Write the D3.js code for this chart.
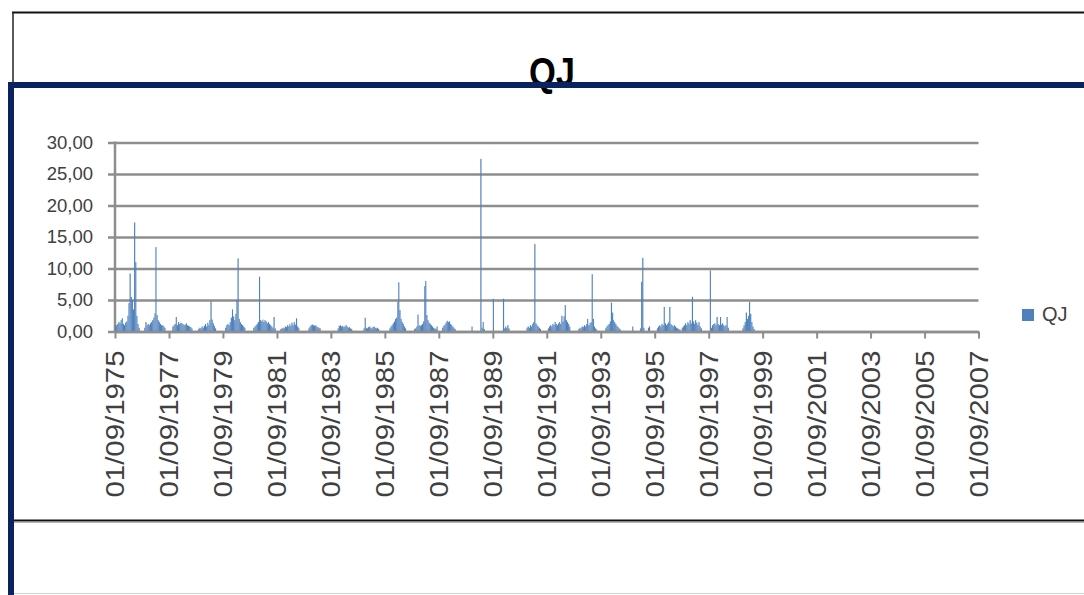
<!DOCTYPE html>
<html>
<head>
<meta charset="utf-8">
<script src="https://cdn.jsdelivr.net/npm/d3@7"></script>
<style>
  html, body { margin: 0; padding: 0; background: #ffffff; }
  svg { display: block; }
  text { font-family: "Liberation Sans", Arial, sans-serif; }
</style>
</head>
<body>
<svg id="chart" width="1084" height="595"></svg>
<script>
// ---------- DATA ----------
const chartTitle = "QJ";
const seriesName = "QJ";
const seriesStart = "1975-09-01";          // first half-month of the series
// half-monthly values (1st and 16th of each month), one line per hydrological year Sep..Aug
const qj1975 = [0.8,1.0,1.2,1.5,1.3,1.8,2.1,1.2,1.0,1.4,1.6,2.5,4.5,9.2,5.5,5.0,3.5,17.3,11.0,2.5,1.2,0.6,0,0];
const qj1976 = [0,0,0.6,1.5,1.0,1.2,1.0,1.3,1.5,1.8,2.2,2.9,13.4,2.6,1.8,1.5,1.2,1.0,1.0,0.8,0.6,0,0,0];
const qj1977 = [0,0,0,0.8,1.0,1.2,2.3,1.0,1.5,1.2,1.4,1.3,1.2,1.0,1.1,1.3,1.0,0.9,0.8,0.7,0.5,0,0,0];
const qj1978 = [0,0,0.4,0.6,0.5,0.8,0.6,0.9,1.2,0.8,1.4,1.0,1.8,4.8,1.9,1.3,0.9,0.5,0,0,0,0,0,0];
const qj1979 = [0,0,0.6,1.0,1.2,1.0,1.5,2.2,3.5,2.4,1.8,2.8,5.0,11.6,2.0,1.5,1.2,1.0,0.8,0.6,0,0,0,0];
const qj1980 = [0,0,0,0.6,0.8,1.0,1.2,1.5,8.7,1.8,1.6,1.9,1.5,1.8,1.6,1.3,1.5,1.2,1.0,0.8,0.6,2.3,0.5,0];
const qj1981 = [0,0,0,0.4,0.5,0.6,0.5,0.8,0.7,1.0,0.8,1.2,0.9,1.4,1.0,1.5,1.1,2.1,0.8,0.6,0,0,0,0];
const qj1982 = [0,0,0,0,0.5,0.8,1.0,1.1,1.0,0.9,1.0,0.8,0.7,0.6,0.5,0,0,0,0,0,0,0,0,0];
const qj1983 = [0,0,0,0,0,0,0.5,0.9,1.0,0.8,0.9,0.7,0.8,1.0,0.8,0.6,0.7,0.5,0.4,0,0,0,0,0];
const qj1984 = [0,0,0,0,0,0.5,2.2,0.6,0.5,0.7,0.8,0.6,0.5,0.7,0.8,0.6,0.5,0.6,0.4,0,0,0,0,0];
const qj1985 = [0,0,0,0,0.5,0.8,1.0,1.3,1.6,2.0,2.2,4.7,7.8,3.4,2.0,1.5,1.2,0.8,0.5,0,0,0,0,0];
const qj1986 = [0,0,0.4,0.5,0.8,2.7,1.0,0.9,1.0,1.2,1.6,7.2,8.0,2.6,1.8,1.4,1.2,1.0,0.8,0.6,0.5,0.4,0.8,0];
const qj1987 = [0,0,0,0.6,0.9,1.1,1.4,1.7,1.5,1.6,1.2,1.0,0.8,0.6,0.4,0,0,0,0,0,0,0,0,0];
const qj1988 = [0,0,0,0,0,0.8,0,0,0,0,0,0,0,27.4,0.6,1.5,0.4,0,0,0,0,0,0,0];
const qj1989 = [5.2,0,0,0,0,0,0,0,0,5.2,0.5,0.8,0.6,1.0,0.5,0,0,0,0,0,0,0,0,0];
const qj1990 = [0,0,0,0,0,0,0.6,0.8,0.6,1.0,0.8,1.2,1.5,13.9,1.3,1.0,0.8,0.6,0.4,0,0,0,0,0];
const qj1991 = [0,0.5,0.8,1.0,0.8,1.2,1.0,1.5,1.2,1.0,1.3,1.5,1.2,2.5,1.6,2.4,4.2,1.8,1.5,1.2,0.8,0,0,0];
const qj1992 = [0,0,0,0,0.4,0.6,0.5,0.8,0.7,1.0,0.8,1.2,2.0,1.0,1.3,1.5,9.1,2.0,0.8,0.5,0.3,0,0,0];
const qj1993 = [0,0,0,0,0.5,0.8,1.0,1.2,1.6,4.6,3.0,1.8,1.5,1.2,0.9,0.7,0.5,0.3,0,0,0,0,0,0];
const qj1994 = [0,0,0,0,0.8,0,0,0,0,0,0,0.5,7.9,11.7,0.6,0,0,0,0.6,0.8,0,0,0,0];
const qj1995 = [0,0,0.5,0.8,1.0,0.8,1.2,1.0,3.9,1.3,1.0,1.2,1.5,3.9,1.2,1.0,0.8,1.0,0.8,0.6,0.5,0.4,0.3,0];
const qj1996 = [0.6,0.8,1.0,1.3,1.0,1.5,1.2,1.8,1.3,5.5,1.6,1.2,1.8,1.4,1.0,1.5,0.8,0.5,0,0,0,0,0,0];
const qj1997 = [0,9.7,0.6,1.0,1.2,1.3,1.0,2.3,1.2,1.0,2.3,1.1,1.3,1.0,0.8,1.0,2.3,0.6,0,0,0,0,0,0];
const qj1998 = [0,0,0,0,0,0,0.5,1.0,1.5,3.0,2.0,2.5,4.7,2.8,1.5,0.8,0.4];

const yTicks = [0, 5, 10, 15, 20, 25, 30];
const xTickYears = [1975,1977,1979,1981,1983,1985,1987,1989,1991,1993,1995,1997,1999,2001,2003,2005,2007];

// ---------- BUILD ----------
const seasons = [qj1975,qj1976,qj1977,qj1978,qj1979,qj1980,qj1981,qj1982,qj1983,qj1984,qj1985,qj1986,
                 qj1987,qj1988,qj1989,qj1990,qj1991,qj1992,qj1993,qj1994,qj1995,qj1996,qj1997,qj1998];
const values = [].concat(...seasons);
const start = d3.timeParse("%Y-%m-%d")(seriesStart);
function halfMonthDate(i) {
  return new Date(start.getFullYear(), start.getMonth() + Math.floor(i / 2), i % 2 ? 16 : 1);
}
const data = values.map((v, i) => ({ d0: halfMonthDate(i), d1: halfMonthDate(i + 1), v }));
const tickDates = xTickYears.map(y => new Date(y, 8, 1));

const svg = d3.select("#chart");
const gridColor = "#8e8e8e";
const textColor = "#404040";
const barColor = "#4f81bd";

// outer chart frame (black)
svg.append("rect").attr("x", 0).attr("y", 0).attr("width", 1084).attr("height", 595).attr("fill", "#fff");
svg.append("line").attr("x1", 12).attr("x2", 1084).attr("y1", 12.5).attr("y2", 12.5)
  .attr("stroke", "#111").attr("stroke-width", 2);
svg.append("line").attr("x1", 13).attr("x2", 13).attr("y1", 12).attr("y2", 521)
  .attr("stroke", "#222").attr("stroke-width", 1.5);
svg.append("line").attr("x1", 12).attr("x2", 1084).attr("y1", 520.5).attr("y2", 520.5)
  .attr("stroke", "#111").attr("stroke-width", 2);
svg.append("line").attr("x1", 12).attr("x2", 1084).attr("y1", 522.5).attr("y2", 522.5)
  .attr("stroke", "#b8b8b8").attr("stroke-width", 1);

// scales
const x = d3.scaleTime().domain([tickDates[0], tickDates[tickDates.length - 1]]).range([115, 978.5]);
const y = d3.scaleLinear().domain([0, 30]).range([331.5, 142.5]);

const locale = d3.formatLocale({ decimal: ",", thousands: ".", grouping: [3], currency: ["", ""] });
const yFmt = locale.format(".2f");
const xFmt = d3.timeFormat("%d/%m/%Y");

// y gridlines + labels
const gridLeft = 108;
const yAxis = d3.axisLeft(y).tickValues(yTicks).tickFormat(yFmt)
  .tickSize(-(x.range()[1] - gridLeft)).tickPadding(15);
const gy = svg.append("g").attr("transform", `translate(${gridLeft},0)`).call(yAxis);
gy.select(".domain").remove();
gy.selectAll(".tick line").attr("stroke", gridColor).attr("stroke-width", 2.5);
gy.selectAll(".tick text").attr("fill", textColor).style("font-size", "18.5px")
  .style("font-family", '"Liberation Sans", Arial, sans-serif');

// vertical axis line
svg.append("line").attr("x1", 115).attr("x2", 115).attr("y1", y(30) - 1).attr("y2", y(0) + 1)
  .attr("stroke", gridColor).attr("stroke-width", 2.5);

// bars
svg.append("g").selectAll("rect").data(data.filter(d => d.v > 0)).join("rect")
  .attr("x", d => x(d.d0))
  .attr("width", d => Math.max(0.8, x(d.d1) - x(d.d0)))
  .attr("y", d => y(d.v))
  .attr("height", d => y(0) - y(d.v))
  .attr("fill", barColor);

// x axis
const xAxis = d3.axisBottom(x).tickValues(tickDates).tickFormat(xFmt).tickSize(7).tickSizeOuter(0);
const gx = svg.append("g").attr("transform", `translate(0,${y(0)})`).call(xAxis);
gx.select(".domain").attr("stroke", gridColor).attr("stroke-width", 2.5);
gx.selectAll(".tick line").attr("stroke", gridColor).attr("stroke-width", 2);
gx.selectAll(".tick text")
  .attr("fill", textColor)
  .style("font-size", "25px")
  .style("font-family", '"Liberation Sans", Arial, sans-serif')
  .attr("text-anchor", "end")
  .attr("transform", "translate(0,19) rotate(-90)")
  .attr("x", 0).attr("y", 0).attr("dy", "0.35em")
  .attr("textLength", 147).attr("lengthAdjust", "spacingAndGlyphs");

// legend
const lg = svg.append("g").attr("transform", "translate(1022,309)");
lg.append("rect").attr("width", 12).attr("height", 12).attr("fill", barColor);
lg.append("text").attr("x", 20).attr("y", 12).attr("fill", textColor)
  .style("font-size", "20px").text(seriesName);

// title (partly hidden under the navy frame)
svg.append("text").attr("x", 552).attr("y", 86).attr("text-anchor", "middle")
  .attr("fill", "#000").style("font-size", "40px").style("font-weight", "bold")
  .attr("textLength", 46).attr("lengthAdjust", "spacingAndGlyphs").text(chartTitle);

// navy overlay frame
const navy = "#0b2260";
svg.append("rect").attr("x", 8).attr("y", 82).attr("width", 1076).attr("height", 6).attr("fill", navy);
svg.append("rect").attr("x", 8).attr("y", 82).attr("width", 6).attr("height", 513).attr("fill", navy);
svg.append("line").attr("x1", 14).attr("x2", 1084).attr("y1", 593.5).attr("y2", 593.5)
  .attr("stroke", "#c9d3e6").attr("stroke-width", 1);
</script>
</body>
</html>
